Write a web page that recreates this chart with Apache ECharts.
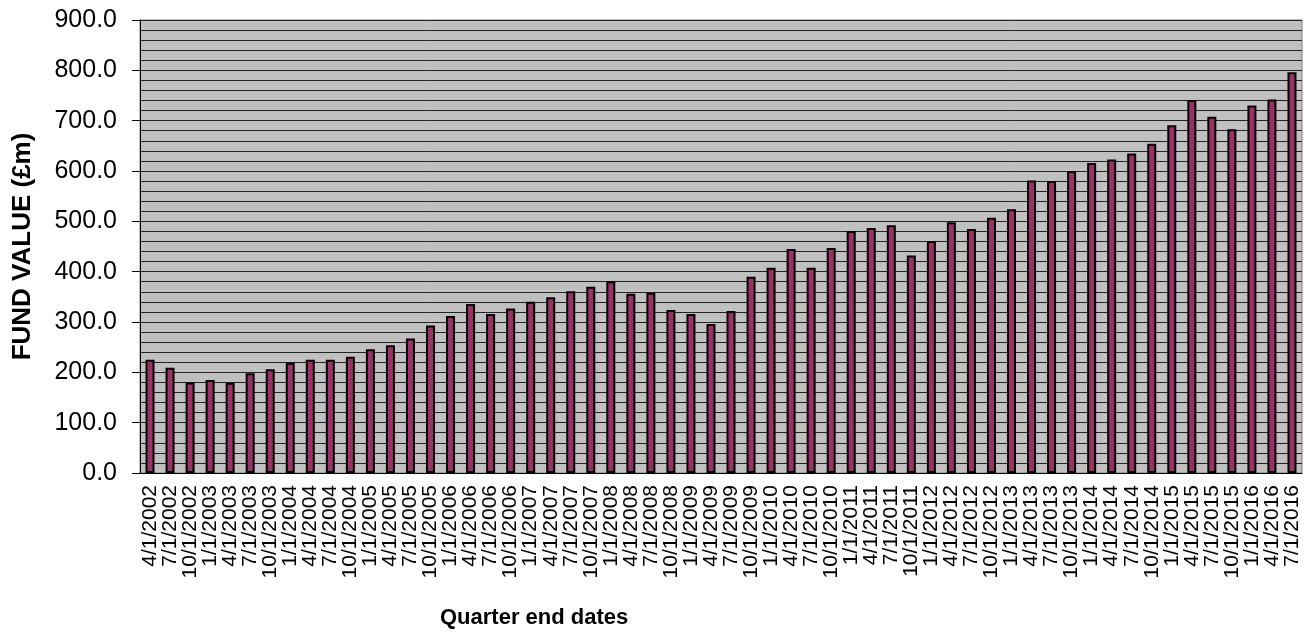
<!DOCTYPE html>
<html>
<head>
<meta charset="utf-8">
<script src="https://cdn.jsdelivr.net/npm/echarts@6/dist/echarts.min.js"></script>
<style>
  html, body { margin: 0; padding: 0; background: #fff; }
  #chart { width: 1309px; height: 635px; }
</style>
</head>
<body>
<div id="chart"></div>
<script>
// quarter end dates (categories)
const quarters = [
  '4/1/2002', '7/1/2002', '10/1/2002',
  '1/1/2003', '4/1/2003', '7/1/2003', '10/1/2003',
  '1/1/2004', '4/1/2004', '7/1/2004', '10/1/2004',
  '1/1/2005', '4/1/2005', '7/1/2005', '10/1/2005',
  '1/1/2006', '4/1/2006', '7/1/2006', '10/1/2006',
  '1/1/2007', '4/1/2007', '7/1/2007', '10/1/2007',
  '1/1/2008', '4/1/2008', '7/1/2008', '10/1/2008',
  '1/1/2009', '4/1/2009', '7/1/2009', '10/1/2009',
  '1/1/2010', '4/1/2010', '7/1/2010', '10/1/2010',
  '1/1/2011', '4/1/2011', '7/1/2011', '10/1/2011',
  '1/1/2012', '4/1/2012', '7/1/2012', '10/1/2012',
  '1/1/2013', '4/1/2013', '7/1/2013', '10/1/2013',
  '1/1/2014', '4/1/2014', '7/1/2014', '10/1/2014',
  '1/1/2015', '4/1/2015', '7/1/2015', '10/1/2015',
  '1/1/2016', '4/1/2016', '7/1/2016'
]

// fund value in £m
const fundValue = [
  225, 209, 180, 185, 179, 198, 206, 219, 225, 225,
  231, 246, 254, 267, 293, 312, 336, 316, 327, 340,
  349, 361, 370, 381, 356, 358, 324, 316, 296, 322,
  390, 408, 445, 408, 447, 481, 487, 492, 432, 461,
  498, 485, 507, 524, 581, 580, 600, 616, 623, 635,
  654, 691, 741, 708, 683, 730, 742, 796
]

const font = 'Liberation Sans, Arial, sans-serif'

const myChart = echarts.init(document.getElementById('chart'))
const option = {
  animation: false,
  title: {
    text: 'Quarter end dates',
    left: 440,
    top: 607,
    padding: 0,
    textStyle: {
      fontFamily: font,
      fontSize: 22,
      fontWeight: 'bold',
      color: '#000',
    },
  },
  grid: {
    left: 140,
    right: 7,
    top: 20,
    bottom: 162,
    show: true,
    backgroundColor: '#c0c0c0',
    borderColor: '#808080',
    borderWidth: 1,
  },
  xAxis: {
    type: 'category',
    data: quarters,
    axisLine: { lineStyle: { color: '#000', width: 1 } },
    axisTick: { length: 6, lineStyle: { color: '#000' } },
    axisLabel: {
      interval: 0,
      rotate: 90,
      margin: 12,
      fontFamily: font,
      fontSize: 21,
      color: '#000',
    },
  },
  yAxis: {
    type: 'value',
    min: 0,
    max: 900,
    interval: 100,
    name: 'FUND VALUE (£m)',
    nameLocation: 'middle',
    nameGap: 104,
    nameTextStyle: {
      fontFamily: font,
      fontSize: 26,
      fontWeight: 'bold',
      color: '#000',
    },
    axisLine: { show: true, lineStyle: { color: '#000', width: 1 } },
    axisTick: { show: true, length: 8, lineStyle: { color: '#000' } },
    axisLabel: {
      margin: 23,
      fontFamily: font,
      fontSize: 25,
      color: '#000',
      formatter: (v) => v.toFixed(1),
    },
    splitLine: { lineStyle: { color: '#222', width: 1 } },
    minorTick: { show: false, splitNumber: 5 },
    minorSplitLine: { show: true, lineStyle: { color: '#222', width: 1 } },
  },
  series: [
    {
      type: 'bar',
      data: fundValue,
      barWidth: 9,
      itemStyle: {
        color: '#993366',
        borderColor: '#000',
        borderWidth: 2,
      },
    },
  ],
}
myChart.setOption(option, true)
</script>
</body>
</html>
